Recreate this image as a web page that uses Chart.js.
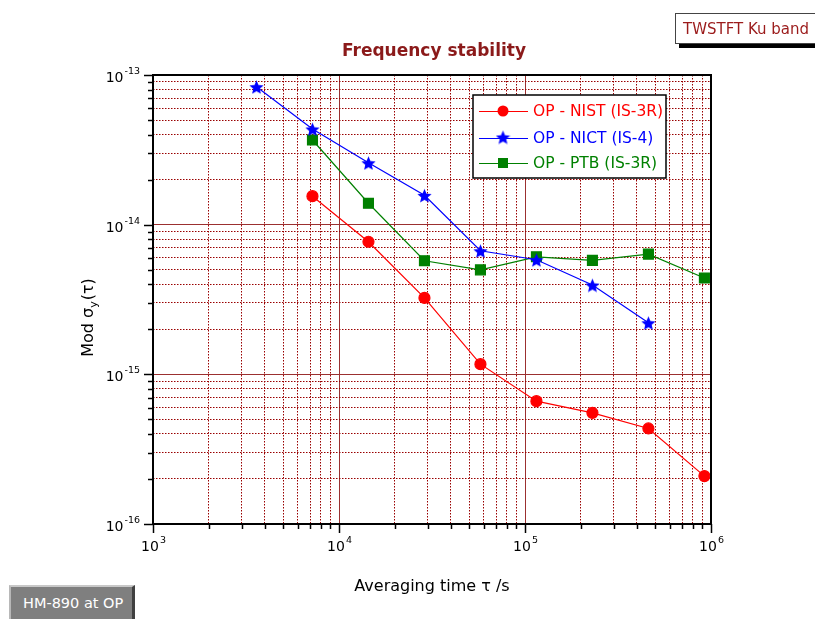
<!DOCTYPE html>
<html>
<head>
<meta charset="utf-8">
<script src="https://cdn.jsdelivr.net/npm/chart.js@4.4.1/dist/chart.umd.min.js"></script>
<style>
  body { margin: 0; background: #fff; }
  #wrap { position: relative; width: 815px; height: 619px; overflow: hidden; }
  #tag {
    position: absolute; left: 675px; top: 13px; width: 150px; height: 31px;
    background: #fff; border: 1px solid #444; box-shadow: 4px 4px 0 #000;
    font: 15px "DejaVu Sans", sans-serif; color: #9b1b1b;
    line-height: 30px; padding-left: 7px; box-sizing: border-box;
  }
  #hm {
    position: absolute; left: 9px; top: 585px; width: 126px; height: 40px;
    background: #7f7f7f; border-top: 2px solid #c8c8c8; border-left: 2px solid #b8b8b8;
    border-right: 3px solid #404040; box-sizing: border-box;
    font: 14.5px "DejaVu Sans", sans-serif; color: #fff; padding: 8px 0 0 12px;
  }
</style>
</head>
<body>
<div id="wrap">
  <canvas id="chart" width="815" height="619"></canvas>
  <div id="tag">TWSTFT Ku band</div>
  <div id="hm">HM-890 at OP</div>
</div>
<script>
// thời gian lấy trung bình (s)
const tau = [3600, 7200, 14400, 28800, 57600, 115200, 230400, 460800, 921600];

// Mod sigma_y cho từng đường
const nist = [null, 1.55e-14, 7.69e-15, 3.24e-15, 1.17e-15, 6.62e-16, 5.53e-16, 4.35e-16, 2.09e-16];
const nict = [8.35e-14, 4.36e-14, 2.59e-14, 1.57e-14, 6.69e-15, 5.83e-15, 3.95e-15, 2.21e-15, null];
const ptb  = [null, 3.68e-14, 1.39e-14, 5.74e-15, 4.99e-15, 6.10e-15, 5.77e-15, 6.36e-15, 4.40e-15];

const seriesNames = ['OP - NIST (IS-3R)', 'OP - NICT (IS-4)', 'OP - PTB (IS-3R)'];
const xDecades = [3, 6];
const yDecades = [-16, -13];

const FONT = '"DejaVu Sans", sans-serif';

function logTicks(lo, hi) {
  const out = [];
  for (let e = lo; e < hi; e++) {
    for (let m = 1; m <= 9; m++) out.push(m * Math.pow(10, e));
  }
  out.push(Math.pow(10, hi));
  return out;
}
function isDecade(v) {
  const l = Math.log10(v);
  return Math.abs(l - Math.round(l)) < 1e-6;
}

// ngôi sao đặc làm điểm
function starImage(size, color) {
  const c = document.createElement('canvas');
  c.width = c.height = size;
  const g = c.getContext('2d');
  g.fillStyle = color;
  g.beginPath();
  const R = size / 2, r = R * 0.45, cx = size / 2, cy = size / 2 + 1;
  for (let i = 0; i < 10; i++) {
    const a = -Math.PI / 2 + i * Math.PI / 5;
    const rad = i % 2 ? r : R;
    g.lineTo(cx + rad * Math.cos(a), cy + rad * Math.sin(a));
  }
  g.closePath();
  g.fill();
  return c;
}
const star = starImage(15, '#0000ff');

function pts(arr) {
  return tau.map((t, i) => ({ x: t, y: arr[i] })).filter(p => p.y !== null);
}

const gridColor = ctx => ctx.tick && isDecade(ctx.tick.value) ? '#9b3030' : '#990000';
const gridDash = ctx => ctx.tick && !isDecade(ctx.tick.value) ? [1.5, 1.5] : [];

// vẽ 10 mũ n với số mũ nhỏ nâng lên
function powerLabel(ctx, v, x, y, align) {
  const e = String(Math.round(Math.log10(v)));
  ctx.font = '14px ' + FONT;
  const w1 = ctx.measureText('10').width;
  ctx.font = '9.5px ' + FONT;
  const w2 = ctx.measureText(e).width;
  const x0 = align === 'right' ? x - w1 - w2 - 1 : x - (w1 + w2 + 1) / 2;
  ctx.textAlign = 'left';
  ctx.textBaseline = 'alphabetic';
  ctx.font = '14px ' + FONT;
  ctx.fillText('10', x0, y + 5);
  ctx.font = '9.5px ' + FONT;
  ctx.fillText(e, x0 + w1 + 1, y - 3);
}

// khung, vạch chia, tiêu đề, chú giải
const decor = {
  id: 'decor',
  afterDraw(chart) {
    const { ctx, chartArea: a, scales } = chart;
    ctx.save();
    ctx.strokeStyle = '#000';
    ctx.lineWidth = 2;
    ctx.strokeRect(a.left, a.top, a.right - a.left, a.bottom - a.top);
    ctx.lineWidth = 1.5;
    ctx.fillStyle = '#000';
    scales.x.ticks.forEach(t => {
      const px = Math.round(scales.x.getPixelForValue(t.value)) + 0.5;
      const len = isDecade(t.value) ? 9 : 5;
      ctx.beginPath(); ctx.moveTo(px, a.bottom); ctx.lineTo(px, a.bottom + len); ctx.stroke();
      if (isDecade(t.value)) powerLabel(ctx, t.value, px, 546, 'center');
    });
    scales.y.ticks.forEach(t => {
      const py = Math.round(scales.y.getPixelForValue(t.value)) + 0.5;
      const len = isDecade(t.value) ? 9 : 5;
      ctx.beginPath(); ctx.moveTo(a.left, py); ctx.lineTo(a.left - len, py); ctx.stroke();
      if (isDecade(t.value)) powerLabel(ctx, t.value, 140, py + 1, 'right');
    });

    // tiêu đề
    ctx.fillStyle = '#8b1a1a';
    ctx.font = 'bold 17px ' + FONT;
    ctx.textAlign = 'center';
    ctx.textBaseline = 'middle';
    ctx.fillText('Frequency stability', (a.left + a.right) / 2 + 2, 52);

    // nhãn trục x
    ctx.fillStyle = '#000';
    ctx.font = '16px ' + FONT;
    ctx.fillText('Averaging time \u03C4 /s', (a.left + a.right) / 2, 587);

    // nhãn trục y có chỉ số dưới
    ctx.save();
    ctx.translate(89, 318);
    ctx.rotate(-Math.PI / 2);
    ctx.textAlign = 'left';
    const p1 = 'Mod \u03C3', p3 = '(\u03C4)';
    ctx.font = '16px ' + FONT;
    const w1 = ctx.measureText(p1).width;
    ctx.font = '11px ' + FONT;
    const w2 = ctx.measureText('y').width;
    ctx.font = '16px ' + FONT;
    const w3 = ctx.measureText(p3).width;
    const x0 = -(w1 + w2 + w3) / 2;
    ctx.fillText(p1, x0, 0);
    ctx.font = '11px ' + FONT;
    ctx.fillText('y', x0 + w1, 5);
    ctx.font = '16px ' + FONT;
    ctx.fillText(p3, x0 + w1 + w2 + 1, 0);
    ctx.restore();

    // chú giải
    const bx = 473, by = 95, bw = 193, bh = 83;
    ctx.fillStyle = '#fff';
    ctx.fillRect(bx, by, bw, bh);
    ctx.strokeStyle = '#000';
    ctx.lineWidth = 1.5;
    ctx.strokeRect(bx, by, bw, bh);
    const rows = [111, 138, 163];
    chart.data.datasets.forEach((ds, i) => {
      const y = rows[i];
      ctx.strokeStyle = ds.borderColor;
      ctx.lineWidth = 1;
      ctx.beginPath(); ctx.moveTo(479, y + 0.5); ctx.lineTo(528, y + 0.5); ctx.stroke();
      ctx.fillStyle = ds.backgroundColor;
      if (ds.pointStyle === 'circle') {
        ctx.beginPath(); ctx.arc(503, y, 5.5, 0, Math.PI * 2); ctx.fill();
      } else if (ds.pointStyle === 'rect') {
        ctx.fillRect(498, y - 5, 10, 10);
      } else {
        ctx.drawImage(ds.pointStyle, 503 - 7.5, y - 8.5);
      }
      ctx.fillStyle = ds.borderColor;
      ctx.font = '15.5px ' + FONT;
      ctx.textAlign = 'left';
      ctx.textBaseline = 'middle';
      ctx.fillText(ds.label, 533, y + 1);
    });
    ctx.restore();
  }
};

new Chart(document.getElementById('chart'), {
  type: 'line',
  data: {
    datasets: [
      { label: seriesNames[0], data: pts(nist), borderColor: '#ff0000', backgroundColor: '#ff0000',
        pointStyle: 'circle', pointRadius: 5.5, borderWidth: 1.2 },
      { label: seriesNames[1], data: pts(nict), borderColor: '#0000ff', backgroundColor: '#0000ff',
        pointStyle: star, pointRadius: 7, borderWidth: 1.2 },
      { label: seriesNames[2], data: pts(ptb), borderColor: '#008000', backgroundColor: '#008000',
        pointStyle: 'rect', pointRadius: 7, borderWidth: 1.2 }
    ]
  },
  options: {
    responsive: false,
    animation: false,
    layout: { padding: { top: 75, right: 104, left: 0, bottom: 0 } },
    plugins: { legend: { display: false }, title: { display: false }, tooltip: { enabled: false } },
    scales: {
      x: {
        type: 'logarithmic',
        min: Math.pow(10, xDecades[0]), max: Math.pow(10, xDecades[1]),
        afterBuildTicks: s => { s.ticks = logTicks(xDecades[0], xDecades[1]).map(v => ({ value: v })); },
        afterFit: s => { s.height = 95; },
        ticks: { display: false, autoSkip: false },
        grid: { color: gridColor, lineWidth: 1, drawTicks: false },
        border: { display: false, dash: gridDash }
      },
      y: {
        type: 'logarithmic',
        min: Math.pow(10, yDecades[0]), max: Math.pow(10, yDecades[1]),
        afterBuildTicks: s => { s.ticks = logTicks(yDecades[0], yDecades[1]).map(v => ({ value: v })); },
        afterFit: s => { s.width = 153; },
        ticks: { display: false, autoSkip: false },
        grid: { color: gridColor, lineWidth: 1, drawTicks: false },
        border: { display: false, dash: gridDash }
      }
    }
  },
  plugins: [decor]
});
</script>
</body>
</html>
